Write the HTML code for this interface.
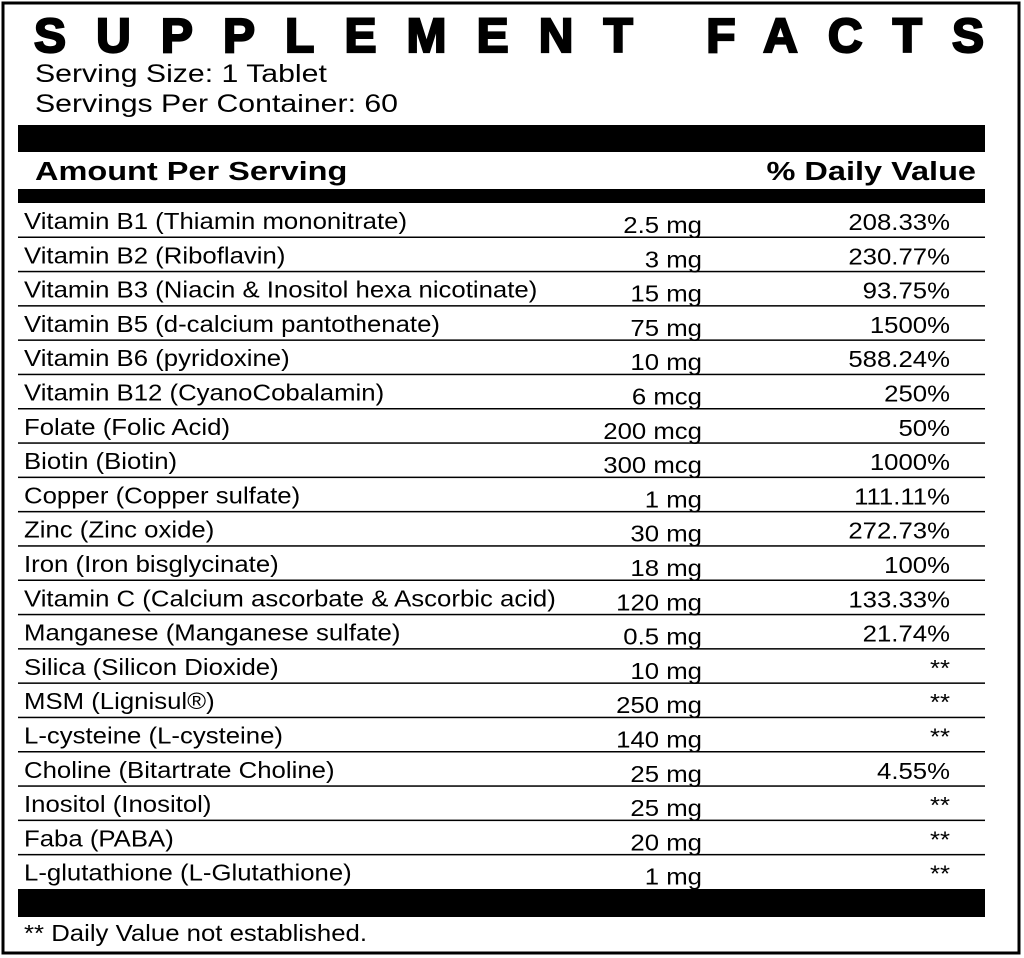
<!DOCTYPE html>
<html><head><meta charset="utf-8"><style>html,body{margin:0;padding:0;background:#fff}svg{display:block}</style></head><body>
<svg width="1024" height="958" xmlns="http://www.w3.org/2000/svg" font-family="Liberation Sans, Arial, sans-serif">
<rect x="3" y="3" width="1016" height="950" fill="#fff" stroke="#000" stroke-width="3"/>
<text x="34" y="52" font-size="48" font-weight="bold" stroke="#000" stroke-width="2.2" textLength="950" lengthAdjust="spacing">SUPPLEMENT FACTS</text>
<g font-size="25">
<text transform="translate(35,82) scale(1.21,1)">Serving Size: 1 Tablet</text>
<text transform="translate(35,112) scale(1.21,1)">Servings Per Container: 60</text>
</g>
<rect x="18" y="125" width="967" height="27" fill="#000"/>
<g font-size="26" font-weight="bold">
<text transform="translate(35,180) scale(1.25,1)">Amount Per Serving</text>
<text transform="translate(976,180) scale(1.25,1)" text-anchor="end">% Daily Value</text>
</g>
<rect x="18" y="189" width="967" height="14" fill="#000"/>
<g fill="#000">
<rect x="18" y="236.5" width="967" height="1.5"/><rect x="18" y="270.8" width="967" height="1.5"/><rect x="18" y="305.1" width="967" height="1.5"/><rect x="18" y="339.4" width="967" height="1.5"/><rect x="18" y="373.7" width="967" height="1.5"/><rect x="18" y="408" width="967" height="1.5"/><rect x="18" y="442.3" width="967" height="1.5"/><rect x="18" y="476.6" width="967" height="1.5"/><rect x="18" y="510.9" width="967" height="1.5"/><rect x="18" y="545.2" width="967" height="1.5"/><rect x="18" y="579.5" width="967" height="1.5"/><rect x="18" y="613.8" width="967" height="1.5"/><rect x="18" y="648.1" width="967" height="1.5"/><rect x="18" y="682.4" width="967" height="1.5"/><rect x="18" y="716.7" width="967" height="1.5"/><rect x="18" y="751" width="967" height="1.5"/><rect x="18" y="785.3" width="967" height="1.5"/><rect x="18" y="819.6" width="967" height="1.5"/><rect x="18" y="853.9" width="967" height="1.5"/>
</g>
<g font-size="23">
<text transform="translate(24,229) scale(1.12,1)">Vitamin B1 (Thiamin mononitrate)</text>
<text transform="translate(24,263.3) scale(1.12,1)">Vitamin B2 (Riboflavin)</text>
<text transform="translate(24,297.6) scale(1.12,1)">Vitamin B3 (Niacin &amp; Inositol hexa nicotinate)</text>
<text transform="translate(24,331.9) scale(1.12,1)">Vitamin B5 (d-calcium pantothenate)</text>
<text transform="translate(24,366.2) scale(1.12,1)">Vitamin B6 (pyridoxine)</text>
<text transform="translate(24,400.5) scale(1.12,1)">Vitamin B12 (CyanoCobalamin)</text>
<text transform="translate(24,434.8) scale(1.12,1)">Folate (Folic Acid)</text>
<text transform="translate(24,469.1) scale(1.12,1)">Biotin (Biotin)</text>
<text transform="translate(24,503.4) scale(1.12,1)">Copper (Copper sulfate)</text>
<text transform="translate(24,537.7) scale(1.12,1)">Zinc (Zinc oxide)</text>
<text transform="translate(24,572) scale(1.12,1)">Iron (Iron bisglycinate)</text>
<text transform="translate(24,606.3) scale(1.12,1)">Vitamin C (Calcium ascorbate &amp; Ascorbic acid)</text>
<text transform="translate(24,640.6) scale(1.12,1)">Manganese (Manganese sulfate)</text>
<text transform="translate(24,674.9) scale(1.12,1)">Silica (Silicon Dioxide)</text>
<text transform="translate(24,709.2) scale(1.12,1)">MSM (Lignisul®)</text>
<text transform="translate(24,743.5) scale(1.12,1)">L-cysteine (L-cysteine)</text>
<text transform="translate(24,777.8) scale(1.12,1)">Choline (Bitartrate Choline)</text>
<text transform="translate(24,812.1) scale(1.12,1)">Inositol (Inositol)</text>
<text transform="translate(24,846.4) scale(1.12,1)">Faba (PABA)</text>
<text transform="translate(24,880.7) scale(1.12,1)">L-glutathione (L-Glutathione)</text>
</g>
<g font-size="23" text-anchor="end">
<text transform="translate(702,233) scale(1.12,1)">2.5 mg</text>
<text transform="translate(702,267.3) scale(1.12,1)">3 mg</text>
<text transform="translate(702,301.6) scale(1.12,1)">15 mg</text>
<text transform="translate(702,335.9) scale(1.12,1)">75 mg</text>
<text transform="translate(702,370.2) scale(1.12,1)">10 mg</text>
<text transform="translate(702,404.5) scale(1.12,1)">6 mcg</text>
<text transform="translate(702,438.8) scale(1.12,1)">200 mcg</text>
<text transform="translate(702,473.1) scale(1.12,1)">300 mcg</text>
<text transform="translate(702,507.4) scale(1.12,1)">1 mg</text>
<text transform="translate(702,541.7) scale(1.12,1)">30 mg</text>
<text transform="translate(702,576) scale(1.12,1)">18 mg</text>
<text transform="translate(702,610.3) scale(1.12,1)">120 mg</text>
<text transform="translate(702,644.6) scale(1.12,1)">0.5 mg</text>
<text transform="translate(702,678.9) scale(1.12,1)">10 mg</text>
<text transform="translate(702,713.2) scale(1.12,1)">250 mg</text>
<text transform="translate(702,747.5) scale(1.12,1)">140 mg</text>
<text transform="translate(702,781.8) scale(1.12,1)">25 mg</text>
<text transform="translate(702,816.1) scale(1.12,1)">25 mg</text>
<text transform="translate(702,850.4) scale(1.12,1)">20 mg</text>
<text transform="translate(702,884.7) scale(1.12,1)">1 mg</text>
<text transform="translate(950,230) scale(1.12,1)">208.33%</text>
<text transform="translate(950,264.3) scale(1.12,1)">230.77%</text>
<text transform="translate(950,298.6) scale(1.12,1)">93.75%</text>
<text transform="translate(950,332.9) scale(1.12,1)">1500%</text>
<text transform="translate(950,367.2) scale(1.12,1)">588.24%</text>
<text transform="translate(950,401.5) scale(1.12,1)">250%</text>
<text transform="translate(950,435.8) scale(1.12,1)">50%</text>
<text transform="translate(950,470.1) scale(1.12,1)">1000%</text>
<text transform="translate(950,504.4) scale(1.12,1)">111.11%</text>
<text transform="translate(950,538.7) scale(1.12,1)">272.73%</text>
<text transform="translate(950,573) scale(1.12,1)">100%</text>
<text transform="translate(950,607.3) scale(1.12,1)">133.33%</text>
<text transform="translate(950,641.6) scale(1.12,1)">21.74%</text>
<text transform="translate(950,675.9) scale(1.12,1)">**</text>
<text transform="translate(950,710.2) scale(1.12,1)">**</text>
<text transform="translate(950,744.5) scale(1.12,1)">**</text>
<text transform="translate(950,778.8) scale(1.12,1)">4.55%</text>
<text transform="translate(950,813.1) scale(1.12,1)">**</text>
<text transform="translate(950,847.4) scale(1.12,1)">**</text>
<text transform="translate(950,881.7) scale(1.12,1)">**</text>
</g>
<rect x="18" y="889" width="967" height="28" fill="#000"/>
<text transform="translate(24,941) scale(1.12,1)" font-size="23">** Daily Value not established.</text>
</svg>
</body></html>
